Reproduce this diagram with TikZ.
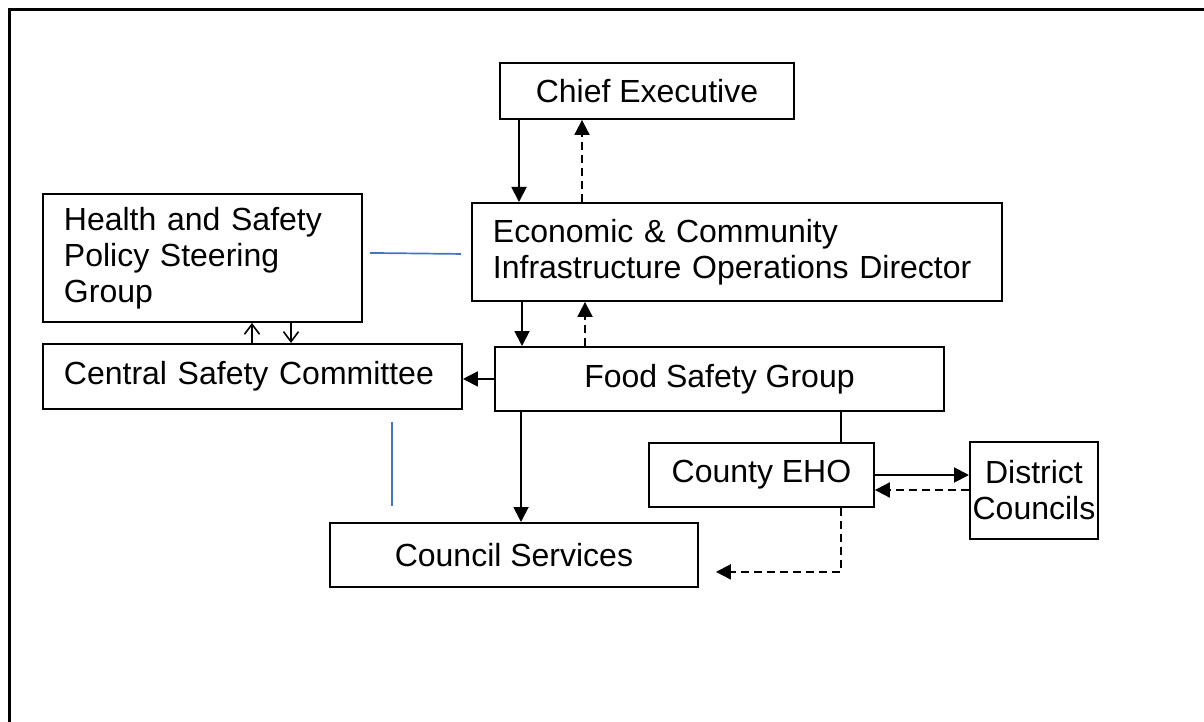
\documentclass[tikz,border=0pt]{standalone}
\usepackage{fontspec}
\setmainfont{Liberation Sans}
\usetikzlibrary{arrows.meta}
\tikzset{
  box/.style={draw, line width=1.9pt, inner sep=0pt, anchor=north west, align=center,
    font=\fontsize{32}{36}\selectfont},
  lbox/.style={box, align=left, inner xsep=21pt},
  arr/.style={line width=1.9pt, -{Triangle[length=15pt,width=15pt]}},
  darr/.style={arr, dash pattern=on 8pt off 5pt},
  oarr/.style={line width=1.6pt, -{Straight Barb[length=10pt,width=15pt,line width=1.6pt]}},
  plain/.style={line width=1.9pt},
  blueline/.style={line width=1.7pt, draw={rgb,255:red,68;green,114;blue,196}},
  frame/.style={line width=3pt}
}
\begin{document}
\begin{tikzpicture}[x=1pt,y=-1pt]
\useasboundingbox (0,0) rectangle (1204,722);
\begin{scope}
\clip (0,0) rectangle (1204,722);
\draw[frame] (9,10) rectangle (1230,740);
\end{scope}

\node[box, minimum width=294pt, minimum height=56pt] (ce) at (499,62) {Chief Executive};
\node[lbox, text width=488pt, minimum height=98pt] (eco) at (471,202) {Economic \& Community\\Infrastructure Operations Director};
\node[lbox, text width=277pt, minimum height=128pt] (hs) at (42,193) {Health and Safety\\Policy Steering\\Group};
\node[lbox, text width=377pt, minimum height=65pt] (csc) at (42,343) {Central Safety Committee};
\node[box, minimum width=449pt, minimum height=64pt] (fsg) at (494,346) {Food Safety Group};
\node[box, minimum width=225pt, minimum height=64pt] (eho) at (648,442) {County EHO};
\node[box, minimum width=128pt, minimum height=97pt] (dc) at (969,441) {District\\Councils};
\node[box, minimum width=368pt, minimum height=64pt] (cs) at (329,522) {Council Services};

% Chief Executive <-> Economic
\coordinate (c1) at ([xshift=20pt]ce.south west);
\draw[arr] (c1) -- (c1 |- eco.north);
\coordinate (c2) at ([xshift=83pt]ce.south west);
\draw[darr] (c2 |- eco.north) -- (c2);

% Economic <-> Food Safety Group
\coordinate (c3) at ([xshift=51pt]eco.south west);
\draw[arr] (c3) -- (c3 |- fsg.north);
\coordinate (c4) at ([xshift=114pt]eco.south west);
\draw[darr] (c4 |- fsg.north) -- (c4);

% blue link HSPSG - Economic
\coordinate (b1) at ([xshift=7pt,yshift=5pt]hs.east);
\coordinate (b2) at ([xshift=-10pt,yshift=-2pt]eco.west);
\draw[blueline] (b1) -- (b2);

% HSPSG <-> CSC
\coordinate (h1) at ([xshift=210pt]csc.north west);
\draw[oarr] (h1) -- (h1 |- hs.south);
\coordinate (h2) at ([xshift=249pt]hs.south west);
\draw[oarr] (h2) -- (h2 |- csc.north);

% FSG -> CSC
\draw[arr] (fsg.west) -- (fsg.west -| csc.east);

% FSG -> Council Services
\coordinate (f1) at ([xshift=27pt]fsg.south west);
\draw[arr] (f1) -- (f1 |- cs.north);

% blue line CSC - Council Services
\coordinate (b3) at ([xshift=350pt,yshift=-12pt]csc.south west);
\coordinate (b4) at ([yshift=16pt]b3 |- cs.north);
\draw[blueline] (b3) -- (b4);

% FSG - County EHO
\coordinate (e0) at ([xshift=193pt]eho.north west);
\draw[plain] (e0) -- (e0 |- fsg.south);

% County EHO <-> District Councils
\coordinate (d1) at ([yshift=-33pt]eho.north east);
\draw[arr] (d1) -- (d1 -| dc.west);
\coordinate (d2) at ([yshift=-48pt]eho.north east);
\draw[darr] (d2 -| dc.west) -- (d2);

% County EHO -> Council Services (dashed)
\coordinate (e2) at ([xshift=193pt]eho.south west);
\coordinate (e3) at ([xshift=17pt,yshift=16pt]cs.south east);
\draw[darr] (e2) |- (e3);
\end{tikzpicture}
\end{document}
